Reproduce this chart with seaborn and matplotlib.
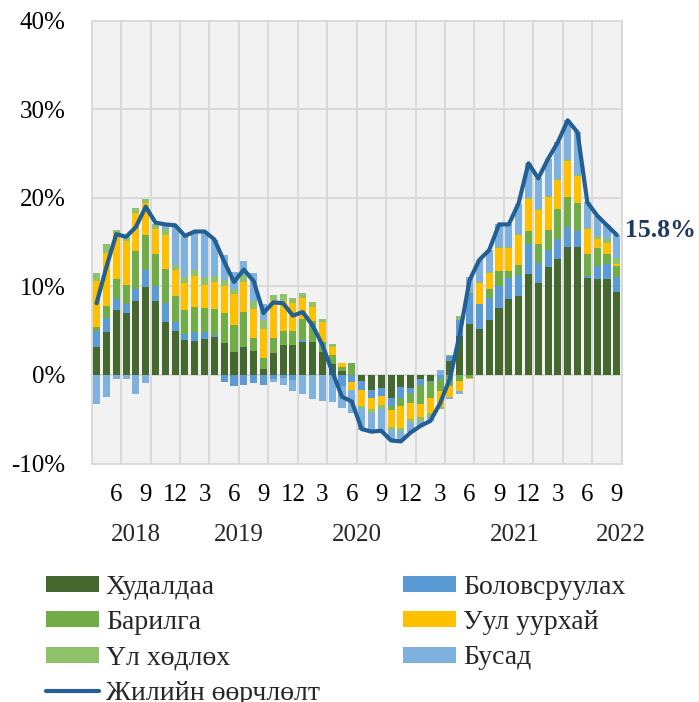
import numpy as np
import pandas as pd
import matplotlib
matplotlib.use("Agg")
import matplotlib.pyplot as plt
from matplotlib.lines import Line2D
from matplotlib.patches import Patch
from matplotlib.ticker import FuncFormatter
import matplotlib.transforms as mtransforms
import seaborn as sns

# Monthly contributions to annual change, percentage points (2018-04 .. 2022-09)
months = pd.period_range("2018-04", "2022-09", freq="M")

trade = [3.2, 4.9, 7.3, 7.0, 8.3, 9.9, 8.3, 6.0, 5.0, 3.95,
         3.8, 4.05, 4.3, 3.65, 2.6, 3.2, 2.75, 0.65, 2.45, 3.4,
         3.4, 3.75, 3.75, 2.55, 1.25, 0.5, 0.0, -0.7, -1.7, -1.45,
         -2.6, -1.4, -1.5, -0.4, -0.65, 0.0, 1.6, 4.45, 5.75, 5.2,
         6.2, 7.6, 8.55, 8.95, 11.35, 10.4, 12.2, 13.1, 14.5, 14.5,
         11.0, 10.8, 10.8, 9.4]
manufacturing = [1.8, 1.5, 1.3, 1.0, 1.4, 1.9, 1.7, 2.1, 1.0, 0.7,
                 1.05, 0.85, 0.2, -0.8, -1.2, -1.1, -0.95, -1.1, -0.45, -0.3,
                 -0.55, 0.25, 0.0, 0.0, 0.0, -1.3, -0.75, -1.0, -0.95, -0.9,
                 -0.85, -1.15, -0.55, -0.75, -0.15, -0.5, 0.5, 1.75, 3.45, 2.8,
                 2.5, 2.5, 2.35, 2.35, 3.4, 2.25, 1.95, 2.2, 2.25, 1.7,
                 0.2, 1.5, 1.7, 1.7]
construction = [0.45, 1.4, 2.2, 2.15, 4.3, 4.0, 3.7, 3.9, 2.9, 2.7,
                2.8, 2.7, 2.9, 3.3, 3.0, 3.9, 1.45, 1.3, 1.7, 1.6,
                1.6, 2.3, 2.35, 1.2, 1.0, 0.45, 1.3, 0.0, 0.0, 0.0,
                -0.5, -0.95, -1.1, -2.15, -1.75, -1.3, -1.25, -0.7, -0.3, 0.0,
                1.0, 1.6, 0.85, 1.1, 1.45, 2.1, 2.25, 3.4, 3.4, 3.2,
                2.45, 2.05, 1.15, 1.25]
mining = [5.2, 6.0, 5.2, 4.95, 4.3, 3.6, 2.8, 3.8, 2.9, 3.0,
          3.5, 2.6, 3.1, 3.15, 3.5, 3.4, 3.2, 3.2, 4.3, 3.4,
          3.1, 2.35, 1.55, 2.2, 0.95, 0.35, -1.0, -1.75, -1.2, -1.0,
          -1.9, -2.45, -1.8, -1.5, -1.75, -1.8, -1.2, -1.1, -0.1, 2.35,
          1.85, 2.6, 2.6, 3.4, 3.7, 3.85, 3.75, 3.3, 4.0, 3.1,
          2.8, 0.95, 1.2, 0.2]
real_estate = [0.85, 1.0, 0.4, 0.6, 0.5, 0.5, 0.6, 0.7, 0.6, 0.7,
               0.75, 0.9, 0.7, 0.6, 0.6, 0.8, 1.0, 1.1, 0.6, 0.7,
               0.55, 0.55, 0.55, 0.35, 0.25, 0.0, 0.0, -0.3, -0.5, -0.45,
               -0.35, -0.35, -0.35, -0.35, -0.4, -0.2, 0.15, 0.5, 0.3, 0.2,
               0.1, 0.1, 0.1, 0.1, 0.1, 0.1, 0.1, 0.1, 0.1, 0.1,
               0.2, 0.4, 0.55, 0.7]
other = [-3.3, -2.5, -0.45, -0.4, -2.1, -0.9, 0.0, 0.4, 4.3, 4.6,
         4.3, 5.1, 4.0, 2.8, 1.9, 1.6, 3.1, 1.8, -0.4, -0.8,
         -1.3, -2.15, -2.7, -2.9, -3.1, -2.45, -2.6, -2.45, -2.05, -2.6,
         -1.2, -1.25, -1.15, -0.6, -0.5, 0.6, -0.25, -0.4, 1.6, 2.45,
         2.45, 2.65, 2.55, 3.45, 3.9, 3.5, 4.15, 4.2, 4.5, 4.8,
         2.85, 2.3, 1.5, 2.55]

# Annual change, %
annual_change = [8.1, 12.2, 15.9, 15.6, 16.7, 19.0, 17.2, 17.0, 16.9, 15.7,
                 16.2, 16.2, 15.3, 12.8, 10.5, 11.9, 10.6, 7.0, 8.2, 8.1,
                 6.7, 7.1, 5.6, 3.4, 0.4, -2.45, -3.0, -6.1, -6.4, -6.3,
                 -7.4, -7.5, -6.5, -5.75, -5.2, -3.2, -0.4, 4.6, 10.7, 13.0,
                 14.1, 17.0, 17.0, 19.4, 23.9, 22.2, 24.4, 26.3, 28.75, 27.4,
                 19.5, 18.0, 16.9, 15.8]

series_names = ["Худалдаа", "Боловсруулах", "Барилга", "Уул уурхай", "Үл хөдлөх", "Бусад"]
line_name = "Жилийн өөрчлөлт"
year_labels = ["2018", "2019", "2020", "2021", "2022"]
last_label = "15.8%"

# --- style -------------------------------------------------------------
sns.set_style("whitegrid", {"axes.facecolor": "#f2f2f2", "grid.color": "#d9d9d9",
                            "axes.edgecolor": "#d9d9d9"})
plt.rcParams["font.family"] = ["Liberation Serif", "DejaVu Serif"]

colors = ["#44682d", "#5b9bd5", "#70ad47", "#ffc000", "#8fc269", "#7eb1de"]
line_color = "#245f94"

fig = plt.figure(figsize=(6.99, 7.02), dpi=100)
ax = fig.add_axes([0.1312, 0.3397, 0.7582, 0.6308])

x = np.arange(len(months))
df = pd.DataFrame({"x": x, "annual": annual_change})

# stacked bars: positives build up from zero, negatives build down from zero
pos_base = np.zeros(len(x))
neg_base = np.zeros(len(x))
for vals, col in zip([trade, manufacturing, construction, mining, real_estate, other], colors):
    v = np.asarray(vals, dtype=float)
    bottom = np.where(v >= 0, pos_base, neg_base)
    ax.bar(x, v, bottom=bottom, width=0.72, color=col, linewidth=0, zorder=2)
    pos_base = pos_base + np.clip(v, 0, None)
    neg_base = neg_base + np.clip(v, None, 0)

sns.lineplot(data=df, x="x", y="annual", ax=ax, color=line_color, linewidth=3.0,
             zorder=3, solid_joinstyle="round", legend=False)

ax.set_xlim(-0.5, len(x) - 0.5)
ax.set_ylim(-10, 40)
ax.set_yticks(np.arange(-10, 41, 10))
ax.yaxis.set_major_formatter(FuncFormatter(lambda v, p: f"{v:.0f}%"))

# vertical grid every quarter, labels on the last month of each quarter
ax.set_xticks(np.arange(-0.5, len(x), 3), minor=False)
ax.set_xticklabels([])
tick_idx = np.arange(2, len(x), 3)
ax.set_xticks(tick_idx, minor=True)
ax.set_xticklabels([str(months[i].month) for i in tick_idx], minor=True)
ax.grid(True, which="major", axis="both", color="#d9d9d9", linewidth=1.4, zorder=0)
ax.grid(False, which="minor")
ax.set_axisbelow(True)
ax.tick_params(axis="both", which="both", length=0, labelsize=18, colors="black")
ax.tick_params(axis="y", pad=19)
ax.tick_params(axis="x", which="minor", pad=15)
ax.set_xlabel("")
ax.set_ylabel("")
for s in ax.spines.values():
    s.set_color("#d9d9d9")
    s.set_linewidth(1.4)

trans = mtransforms.blended_transform_factory(ax.transData, ax.transAxes)
for lbl, xp in zip(year_labels, [4.0, 14.5, 26.5, 42.6, 53.4]):
    ax.text(xp, -0.162, lbl, transform=trans, ha="center", va="center", fontsize=18)

ax.annotate(last_label, xy=(x[-1], annual_change[-1]), xytext=(6, 3),
            textcoords="offset points", ha="left", va="center", fontsize=18.5,
            fontweight="bold", color="#1f3864", annotation_clip=False)

# legend, filled column by column
patches = [Patch(facecolor=c, edgecolor="none") for c in colors]
handles = [patches[0], patches[2], patches[4], Line2D([], [], color=line_color, lw=3),
           patches[1], patches[3], patches[5]]
labels = [series_names[0], series_names[2], series_names[4], line_name,
          series_names[1], series_names[3], series_names[5]]
fig.legend(handles, labels, ncol=2, loc="upper left", bbox_to_anchor=(0.066, 0.181),
           frameon=False, fontsize=20, handlelength=1.9, handleheight=0.5,
           handletextpad=0.25, columnspacing=3.0, labelspacing=0.37,
           borderpad=0, borderaxespad=0)

fig.savefig("out.png", dpi=100, facecolor="white")
